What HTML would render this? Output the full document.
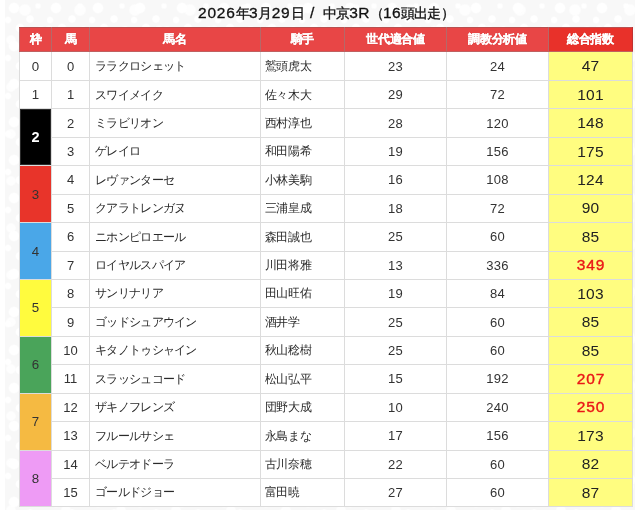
<!DOCTYPE html>
<html lang="ja"><head><meta charset="utf-8">
<style>
html,body{margin:0;padding:0;}
body{width:640px;height:510px;overflow:hidden;background:#fff;font-family:"Liberation Sans",sans-serif;position:relative;}
h1{position:absolute;left:6px;top:3px;width:640px;margin:0;text-align:center;font-size:14px;line-height:20px;font-weight:normal;-webkit-text-stroke:0.3px #111;color:#111;letter-spacing:-0.7px;}
.wrap{position:absolute;left:0;top:0;width:640px;height:510px;will-change:transform;}
.bg{position:absolute;left:5px;top:0;width:630px;height:510px;background-color:#f8f8f8;
background-image:
radial-gradient(circle at 9px 8px,#fff 0,#fff 4.5px,rgba(255,255,255,0) 6px),
radial-gradient(circle at 25px 19px,#fff 0,#fff 3px,rgba(255,255,255,0) 4.5px),
radial-gradient(circle at 33px 6px,#fff 0,#fff 2px,rgba(255,255,255,0) 3.5px),
radial-gradient(circle at 15px 28px,#fff 0,#fff 3.5px,rgba(255,255,255,0) 5px),
radial-gradient(circle at 36px 31px,#fff 0,#fff 4px,rgba(255,255,255,0) 5.5px),
radial-gradient(circle at 3px 20px,#fff 0,#fff 2.5px,rgba(255,255,255,0) 4px),
radial-gradient(circle at 20px 10px,rgba(255,255,255,.8) 0,rgba(255,255,255,.8) 5px,rgba(255,255,255,0) 6.5px),
radial-gradient(circle at 44px 30px,rgba(255,255,255,.8) 0,rgba(255,255,255,.8) 3.5px,rgba(255,255,255,0) 5px),
radial-gradient(circle at 6px 40px,rgba(255,255,255,.8) 0,rgba(255,255,255,.8) 4px,rgba(255,255,255,0) 5.5px);
background-size:42px 38px,42px 38px,42px 38px,42px 38px,42px 38px,42px 38px,55px 47px,55px 47px,55px 47px;}
h1 .d{font-size:15.5px;letter-spacing:0.8px;}
h1 .s{font-size:15.5px;white-space:pre;letter-spacing:1.95px;}
h1 .d2{letter-spacing:0.3px !important;}
table{position:absolute;left:19px;top:27px;width:613px;height:480px;border-collapse:collapse;table-layout:fixed;background:#fff;}
tr{height:28.422px;}
tr.first{height:29.02px;}
tr.head{height:24px;}
td,th{border:1px solid #dcdcdc;padding:0;overflow:hidden;white-space:nowrap;}
th{background:#e84646;color:#fff;-webkit-text-stroke:0.25px #fff;text-shadow:0 0 1px rgba(120,0,0,.35);font-size:11.5px;letter-spacing:-0.3px;font-weight:bold;height:23px;text-align:center;border-color:#b56868;border-top-color:#b85050;border-bottom-color:#c06060;}
th.last{background:#e8312a;border-right-color:#c03030;}
td{padding-top:0;font-size:13px;color:#333;text-align:center;}
td.nm,td.jk{text-align:left;padding-left:5px;font-size:12px;letter-spacing:-0.38px;color:#2a2a2a;padding-top:0.6px;}
td.jk{padding-left:3.8px;}
td.nm{letter-spacing:-0.7px;}
td.v{letter-spacing:0.25px;}
td.t{background:#fffd80;font-size:15.5px;color:#222;letter-spacing:0.2px;}
td.t.hot{color:#ea1717;-webkit-text-stroke:0.4px #ea1717;letter-spacing:0.9px;padding-left:0.9px;}
td.w{color:#333;font-size:13.3px;}
.w2{background:#000;box-shadow:inset 0 0 0 1px #2b2b2b;color:#fff !important;font-weight:bold;font-size:14.5px !important;}
.w3{background:#e8342a;}
.w4{background:#4aa7e8;}
.w5{background:#fffb3e;}
.w6{background:#4aa45a;}
.w7{background:#f5ba42;}
.w8{background:#ee9bf5;}
</style></head><body>
<div class="wrap"><div class="bg"></div>
<h1><span class="d">2026</span>年<span class="d">3</span>月<span class="d">29</span>日<span class="s"> / </span>中京<span class="d d2">3R</span>（<span class="d d2">16</span>頭出走）</h1>
<table>
<colgroup><col style="width:32px"><col style="width:38px"><col style="width:171px"><col style="width:84px"><col style="width:102px"><col style="width:102px"><col style="width:84px"></colgroup>
<tr class="head"><th>枠</th><th>馬</th><th>馬名</th><th>騎手</th><th>世代適合値</th><th>調教分析値</th><th class="last">総合指数</th></tr>
<tr class="first"><td class="w w0">0</td><td class="n">0</td><td class="nm">ララクロシェット</td><td class="jk">鷲頭虎太</td><td class="v">23</td><td class="v">24</td><td class="t">47</td></tr>
<tr><td class="w w1">1</td><td class="n">1</td><td class="nm">スワイメイク</td><td class="jk">佐々木大</td><td class="v">29</td><td class="v">72</td><td class="t">101</td></tr>
<tr><td class="w w2" rowspan="2">2</td><td class="n">2</td><td class="nm">ミラビリオン</td><td class="jk">西村淳也</td><td class="v">28</td><td class="v">120</td><td class="t">148</td></tr>
<tr><td class="n">3</td><td class="nm">ゲレイロ</td><td class="jk">和田陽希</td><td class="v">19</td><td class="v">156</td><td class="t">175</td></tr>
<tr><td class="w w3" rowspan="2">3</td><td class="n">4</td><td class="nm">レヴァンターセ</td><td class="jk">小林美駒</td><td class="v">16</td><td class="v">108</td><td class="t">124</td></tr>
<tr><td class="n">5</td><td class="nm">クアラトレンガヌ</td><td class="jk">三浦皇成</td><td class="v">18</td><td class="v">72</td><td class="t">90</td></tr>
<tr><td class="w w4" rowspan="2">4</td><td class="n">6</td><td class="nm">ニホンピロエール</td><td class="jk">森田誠也</td><td class="v">25</td><td class="v">60</td><td class="t">85</td></tr>
<tr><td class="n">7</td><td class="nm">ロイヤルスパイア</td><td class="jk">川田将雅</td><td class="v">13</td><td class="v">336</td><td class="t hot">349</td></tr>
<tr><td class="w w5" rowspan="2">5</td><td class="n">8</td><td class="nm">サンリナリア</td><td class="jk">田山旺佑</td><td class="v">19</td><td class="v">84</td><td class="t">103</td></tr>
<tr><td class="n">9</td><td class="nm">ゴッドシュアウイン</td><td class="jk">酒井学</td><td class="v">25</td><td class="v">60</td><td class="t">85</td></tr>
<tr><td class="w w6" rowspan="2">6</td><td class="n">10</td><td class="nm">キタノトゥシャイン</td><td class="jk">秋山稔樹</td><td class="v">25</td><td class="v">60</td><td class="t">85</td></tr>
<tr><td class="n">11</td><td class="nm">スラッシュコード</td><td class="jk">松山弘平</td><td class="v">15</td><td class="v">192</td><td class="t hot">207</td></tr>
<tr><td class="w w7" rowspan="2">7</td><td class="n">12</td><td class="nm">ザキノフレンズ</td><td class="jk">団野大成</td><td class="v">10</td><td class="v">240</td><td class="t hot">250</td></tr>
<tr><td class="n">13</td><td class="nm">フルールサシェ</td><td class="jk">永島まな</td><td class="v">17</td><td class="v">156</td><td class="t">173</td></tr>
<tr><td class="w w8" rowspan="2">8</td><td class="n">14</td><td class="nm">ベルテオドーラ</td><td class="jk">古川奈穂</td><td class="v">22</td><td class="v">60</td><td class="t">82</td></tr>
<tr><td class="n">15</td><td class="nm">ゴールドジョー</td><td class="jk">富田暁</td><td class="v">27</td><td class="v">60</td><td class="t">87</td></tr>
</table>
</div>
</body></html>
